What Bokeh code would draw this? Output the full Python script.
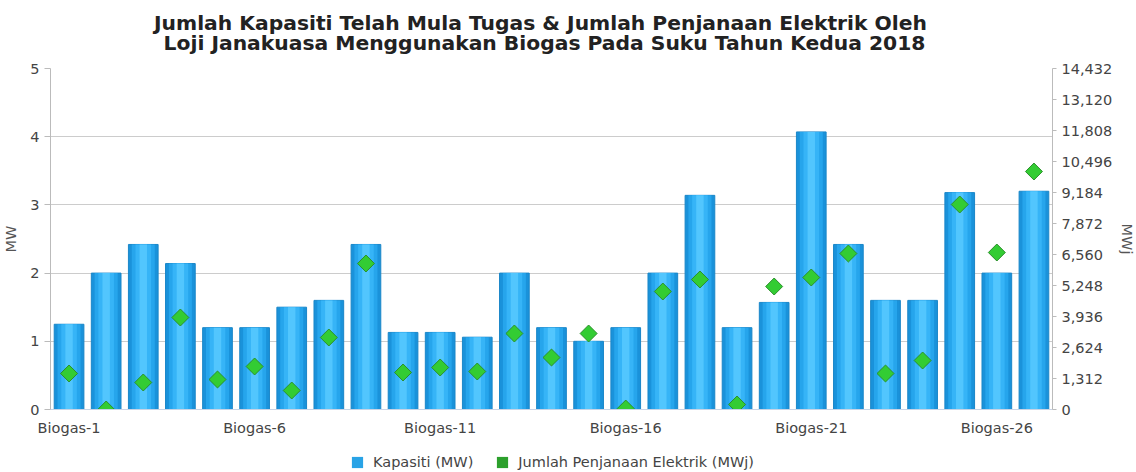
from bokeh.plotting import figure
from bokeh.layouts import column
from bokeh.models import (Range1d, LinearAxis, FixedTicker, ColumnDataSource,
                          Legend, LegendItem, Label, NumeralTickFormatter)
from bokeh.embed import file_html
from bokeh.resources import INLINE
import numpy as np

categories = [f"Biogas-{i}" for i in range(1, 28)]
kapasiti_mw = [1.25, 2.0, 2.42, 2.14, 1.2, 1.2, 1.5, 1.6, 2.42, 1.13, 1.13, 1.06, 2.0,
               1.2, 1.0, 1.2, 2.0, 3.14, 1.2, 1.57, 4.07, 2.42, 1.6, 1.6, 3.18, 2.0, 3.2]
penjanaan_mwj = [1524, 0, 1143, 3893, 1270, 1820, 804, 3047, 6179, 1566, 1777, 1608, 3216,
                 2200, 3216, 40, 4994, 5502, 212, 5205, 5586, 6602, 1524, 2074, 8676, 6644, 10072]
left_ticks = [0, 1, 2, 3, 4, 5]
right_ticks = [0, 1312, 2624, 3936, 5248, 6560, 7872, 9184, 10496, 11808, 13120, 14432]
label_idx = [1, 6, 11, 16, 21, 26]
title_lines = ["Jumlah Kapasiti Telah Mula Tugas & Jumlah Penjanaan Elektrik Oleh",
               "Loji Janakuasa Menggunakan Biogas Pada Suku Tahun Kedua 2018"]
legend_labels = ["Kapasiti (MW)", "Jumlah Penjanaan Elektrik (MWj)"]

x = list(range(1, len(categories) + 1))
src = ColumnDataSource(dict(x=x, mw=kapasiti_mw, mwj=penjanaan_mwj))

FONT = "DejaVu Sans"
FS = "14.5px"

# ---- title strip (its frame is aligned with the chart frame by the column) ----
tf = figure(width=1120, height=56, output_backend="svg", toolbar_location=None,
            x_axis_type=None, y_axis_type=None, x_range=Range1d(0, 1), y_range=Range1d(0, 1),
            min_border=0)
tf.grid.visible = False
tf.outline_line_color = None
for txt, cx, cy in zip(title_lines, [490, 494], [34, 14]):
    tf.add_layout(Label(x=cx, y=cy, x_units="screen", y_units="screen", text=txt,
                        text_align="center", text_baseline="middle", text_font=FONT,
                        text_font_size="20.3px", text_font_style="bold", text_color="#222222"))

# ---- main chart ----
p = figure(frame_width=1002, frame_height=341, output_backend="svg", toolbar_location=None,
           x_range=Range1d(0.5, 27.5), y_range=Range1d(0, 5),
           min_border_left=48, min_border_right=70, min_border_top=12, min_border_bottom=40)
p.outline_line_color = None
p.background_fill_color = "white"

p.extra_y_ranges = {"mwj": Range1d(0, 14432)}

p.xgrid.grid_line_color = None
p.ygrid.grid_line_color = "#cccccc"
p.ygrid.ticker = FixedTicker(ticks=left_ticks)

# bars with pseudo-gradient
p.vbar(x="x", top="mw", width=0.8, bottom=0, source=src, fill_color="#1a92da",
       line_color="#1a86c8", line_width=1)
p.vbar(x="x", top="mw", width=0.62, bottom=0, source=src, fill_color="#26a5ec", line_color=None)
p.vbar(x="x", top="mw", width=0.42, bottom=0, source=src, fill_color="#36b4f7", line_color=None)
p.vbar(x="x", top="mw", width=0.2, bottom=0, source=src, fill_color="#52c6fe", line_color=None)

p.scatter(x="x", y="mwj", source=src, y_range_name="mwj", marker="square", angle=np.pi / 4,
          size=12, fill_color="#33cc33", line_color="#2b8f2b", line_width=1)

p.xaxis.ticker = FixedTicker(ticks=label_idx)
p.xaxis.major_label_overrides = {i: categories[i - 1] for i in label_idx}
p.xaxis.major_label_text_font = FONT
p.xaxis.major_label_text_font_size = FS
p.xaxis.major_label_text_color = "#444444"
p.xaxis.major_tick_out = 0
p.xaxis.major_tick_in = 0
p.xaxis.major_label_standoff = 10
p.xaxis.axis_label_standoff = 0
p.xaxis.axis_line_color = "#c8d4e6"
p.xaxis.major_tick_line_color = None
p.xaxis.minor_tick_line_color = None

p.yaxis.ticker = FixedTicker(ticks=left_ticks)
p.yaxis.axis_label = "MW"
p.yaxis.axis_label_text_font = FONT
p.yaxis.axis_label_text_font_size = FS
p.yaxis.axis_label_text_font_style = "normal"
p.yaxis.axis_label_text_color = "#555555"
p.yaxis.axis_label_standoff = 8
p.yaxis.major_label_text_font = FONT
p.yaxis.major_label_text_font_size = FS
p.yaxis.major_label_text_color = "#444444"
p.yaxis.axis_line_color = "#bbbbbb"
p.yaxis.major_tick_line_color = "#bbbbbb"
p.yaxis.major_tick_out = 6
p.yaxis.major_tick_in = 0
p.yaxis.minor_tick_line_color = None

ra = LinearAxis(y_range_name="mwj", ticker=FixedTicker(ticks=right_ticks),
                formatter=NumeralTickFormatter(format="0,0"), axis_label="MWj")
ra.axis_label_text_font = FONT
ra.axis_label_text_font_size = FS
ra.axis_label_text_font_style = "normal"
ra.axis_label_text_color = "#555555"
ra.axis_label_standoff = 4
ra.major_label_text_font = FONT
ra.major_label_text_font_size = FS
ra.major_label_text_color = "#444444"
ra.axis_line_color = "#bbbbbb"
ra.major_tick_line_color = "#bbbbbb"
ra.major_tick_out = 4
ra.major_tick_in = 0
ra.minor_tick_line_color = None
p.add_layout(ra, "right")

# ---- legend strip ----
lg = figure(width=1120, height=23, output_backend="svg", toolbar_location=None,
            x_axis_type=None, y_axis_type=None, x_range=Range1d(100, 101), y_range=Range1d(100, 101),
            min_border=0)
lg.grid.visible = False
lg.outline_line_color = None
r_blue = lg.vbar(x=x, top=kapasiti_mw, width=0.8, fill_color="#29a3e6",
                 line_color=None, visible=False)
r_green = lg.vbar(x=x, top=penjanaan_mwj, width=0.8, fill_color="#2ca02c",
                  line_color=None, visible=False)
legend = Legend(items=[LegendItem(label=legend_labels[0], renderers=[r_blue]),
                       LegendItem(label=legend_labels[1], renderers=[r_green])],
                orientation="horizontal", location=(300, 2), border_line_color=None,
                background_fill_alpha=0, inactive_fill_alpha=0,
                label_text_font=FONT, label_text_font_size=FS, label_text_color="#444444",
                glyph_width=14, glyph_height=14, spacing=22, padding=0, margin=0,
                label_standoff=9, label_height=16)
lg.add_layout(legend)

open("out.html", "w").write(file_html(column(tf, p, lg, spacing=0), INLINE))
